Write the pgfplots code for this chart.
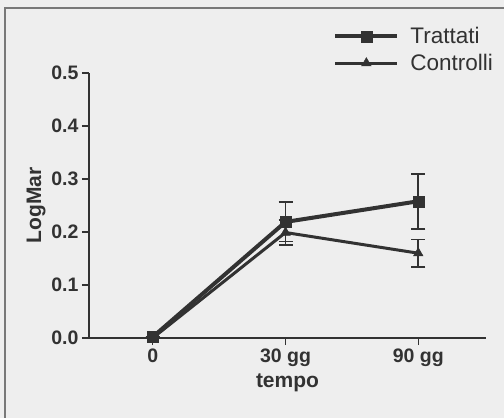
\documentclass[border=0pt]{standalone}
\usepackage{fontspec}
\setmainfont{Liberation Sans}
\usepackage{pgfplots}
\pgfplotsset{compat=1.18}
\definecolor{bgGray}{RGB}{238,238,238}
\definecolor{inkGray}{RGB}{50,50,50}
\definecolor{frameGray}{RGB}{120,120,120}

\begin{document}
\begin{tikzpicture}
    \useasboundingbox (-89bp,-80bp) rectangle (415bp,338bp);
    \fill[bgGray] (-89bp,-80bp) rectangle (415bp,338bp);
    \draw[frameGray, line width=1.5bp] (-84bp,-80bp) -- (-84bp,330bp) -- (415bp,330bp);
    \begin{axis}[
        at={(0,0)}, anchor=south west,
        scale only axis,
        width=397bp,
        height=265bp,
        axis lines*=left,
        axis line style={inkGray, line width=1.3bp},
        xmin=-0.48, xmax=2.51,
        ymin=0, ymax=0.5,
        xtick={0,1,2},
        xticklabels={0, 30 gg, 90 gg},
        ytick={0,0.1,...,0.5},
        tick align=outside,
        major tick length=7bp,
        tick style={inkGray, line width=1.1bp},
        y tick label style={/pgf/number format/.cd, fixed, fixed zerofill, precision=1},
        /pgf/number format/assume math mode=true,
        ticklabel style={font=\fontsize{19.5bp}{21bp}\selectfont\bfseries, text=inkGray},
        xlabel={tempo},
        ylabel={LogMar},
        label style={font=\fontsize{21bp}{23bp}\selectfont\bfseries, text=inkGray},
        xlabel style={yshift=-1bp},
        ylabel style={yshift=-1bp},
        legend style={draw=none, fill=none, at={(0.615,1.18)}, anchor=north west,
            font=\fontsize{22.5bp}{24bp}\selectfont, text=inkGray,
            row sep=5bp, inner sep=0pt},
        legend cell align=left,
        legend image code/.code={\draw[mark repeat=2, mark phase=2, #1]
            plot coordinates {(0bp,0bp) (31bp,0bp) (62bp,0bp)};
            \path (71bp,0bp);},
        clip=false,
    ]
        \addplot+[inkGray, line width=4bp, mark=square*,
            mark size=5.5bp, mark options={solid, inkGray, line width=0.5bp},
            error bars/.cd, y dir=both, y explicit,
            error bar style={inkGray, line width=1.7bp},
            error mark options={inkGray, line width=1.7bp, mark size=7bp, rotate=90}]
        coordinates {
            (0, 0.002) +- (0, 0)
            (1, 0.219) +- (0, 0.037)
            (2, 0.258) +- (0, 0.052)
        };
        \addlegendentry{Trattati}
        \addplot+[inkGray, line width=3bp, mark=triangle*,
            mark size=5.5bp, mark options={solid, inkGray, line width=0.5bp},
            error bars/.cd, y dir=both, y explicit,
            error bar style={inkGray, line width=1.7bp},
            error mark options={inkGray, line width=1.7bp, mark size=7bp, rotate=90}]
        coordinates {
            (0, 0.0) +- (0, 0)
            (1, 0.199) +- (0, 0.023)
            (2, 0.160) +- (0, 0.026)
        };
        \addlegendentry{Controlli}
    \end{axis}
\end{tikzpicture}
\end{document}
